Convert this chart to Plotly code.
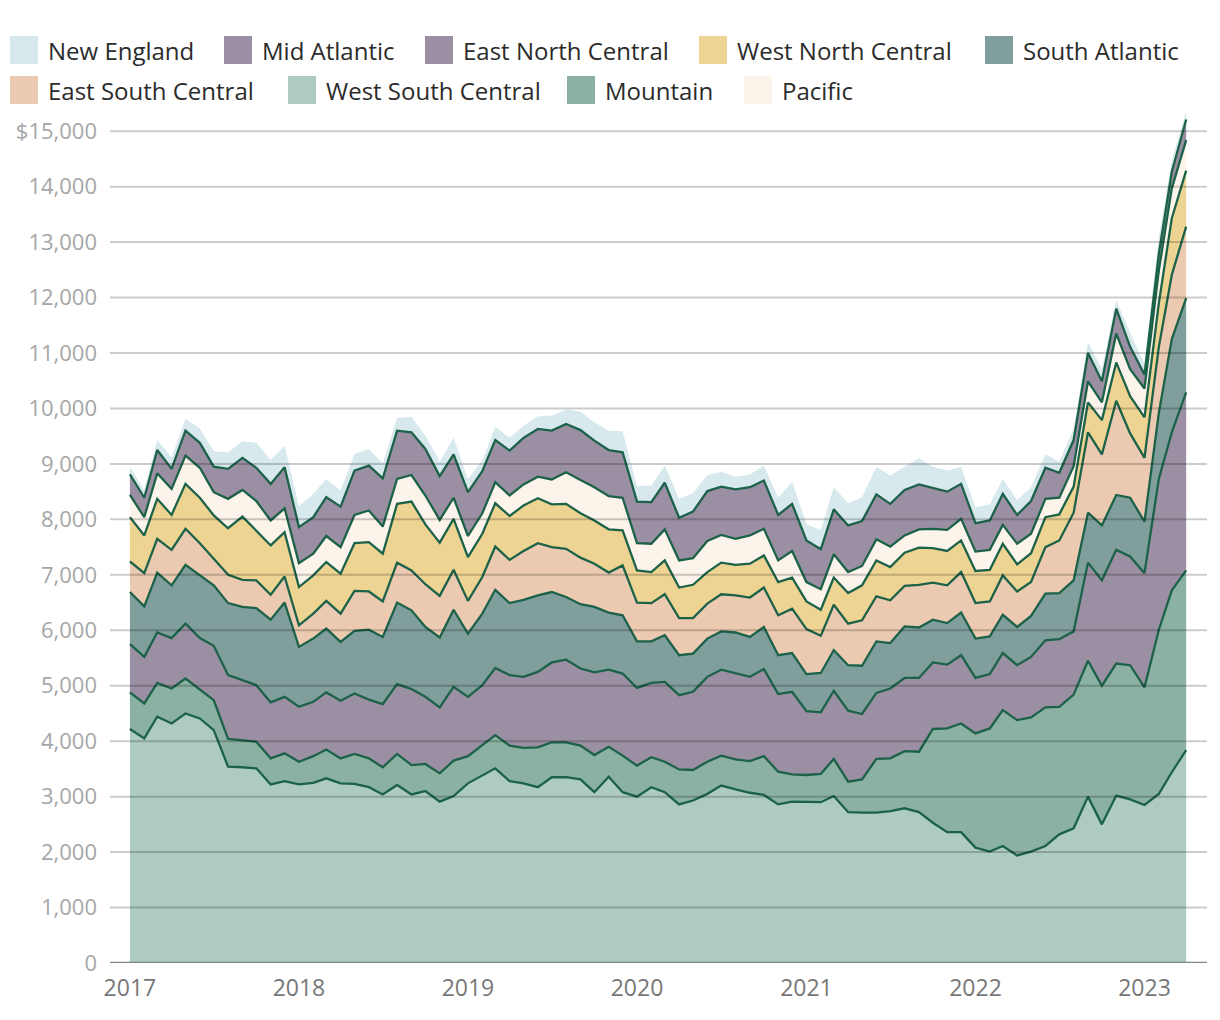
import pandas as pd
import plotly.graph_objects as go

# ---------------- data (monthly, Jan 2017 .. Apr 2023) ----------------
months = pd.date_range("2017-01-01", periods=76, freq="MS")

west_south_central = [
    4220, 4050, 4440, 4320, 4500, 4410, 4200, 3540, 3530, 3510, 3220, 3280,
    3220, 3250, 3330, 3240, 3230, 3170, 3040, 3210, 3040, 3100, 2910, 3010,
    3240, 3390, 3510, 3280, 3240, 3170, 3350, 3350, 3310, 3080, 3360, 3080,
    3000, 3170, 3080, 2860, 2930, 3050, 3200, 3130, 3070, 3030, 2860, 2910,
    2910, 2900, 3010, 2720, 2710, 2710, 2740, 2790, 2720, 2530, 2360, 2360,
    2080, 2010, 2110, 1940, 2010, 2110, 2320, 2430, 3000, 2500, 3020, 2950,
    2850, 3050, 3440, 3840]
mountain = [
    660, 630, 610, 630, 630, 520, 540, 500, 490, 480, 470, 500,
    410, 480, 520, 450, 540, 520, 490, 560, 530, 490, 510, 640,
    490, 540, 600, 640, 640, 720, 630, 630, 610, 670, 540, 660,
    560, 540, 550, 630, 550, 580, 540, 540, 570, 700, 590, 490,
    480, 510, 670, 550, 600, 970, 950, 1030, 1090, 1690, 1870, 1960,
    2060, 2220, 2450, 2440, 2420, 2500, 2300, 2410, 2450, 2500, 2380, 2420,
    2120, 2960, 3280, 3240]
mid_atlantic = [
    870, 840, 910, 910, 990, 930, 980, 1150, 1080, 1020, 1010, 1020,
    990, 980, 1030, 1040, 1090, 1060, 1140, 1260, 1370, 1210, 1190, 1330,
    1070, 1080, 1210, 1270, 1280, 1360, 1440, 1490, 1390, 1490, 1390, 1480,
    1400, 1340, 1440, 1340, 1410, 1530, 1550, 1560, 1520, 1570, 1400, 1490,
    1150, 1110, 1230, 1280, 1180, 1190, 1260, 1320, 1330, 1200, 1150, 1230,
    1000, 980, 1030, 990, 1090, 1210, 1220, 1140, 1770, 1900, 2050, 1960,
    2060, 2720, 2850, 3210]
south_atlantic = [
    940, 910, 1080, 950, 1060, 1130, 1090, 1300, 1320, 1390, 1490, 1700,
    1080, 1140, 1150, 1060, 1130, 1260, 1210, 1470, 1420, 1260, 1260, 1390,
    1140, 1290, 1410, 1300, 1390, 1380, 1270, 1130, 1160, 1180, 1030, 1050,
    840, 750, 840, 720, 690, 690, 690, 730, 720, 760, 700, 700,
    670, 710, 730, 820, 870, 930, 820, 930, 910, 770, 750, 770,
    710, 680, 690, 690, 740, 840, 830, 920, 900, 990, 990, 1060,
    930, 1190, 1680, 1700]
east_south_central = [
    550, 600, 610, 640, 650, 580, 480, 510, 490, 500, 450, 470,
    390, 450, 500, 510, 720, 690, 640, 720, 720, 770, 750, 720,
    590, 660, 780, 780, 880, 940, 810, 870, 840, 780, 720, 900,
    700, 690, 740, 670, 640, 630, 670, 670, 710, 710, 720, 800,
    810, 670, 820, 750, 820, 810, 770, 730, 770, 670, 680, 730,
    640, 630, 710, 640, 610, 840, 950, 1220, 1450, 1280, 1700, 1160,
    1150, 1190, 1160, 1290]
west_north_central = [
    800, 680, 720, 630, 810, 820, 780, 840, 1140, 900, 890, 800,
    690, 690, 700, 720, 860, 890, 860, 1060, 1240, 1080, 960, 920,
    790, 780, 780, 790, 820, 810, 770, 810, 800, 780, 780, 630,
    580, 560, 610, 550, 600, 570, 570, 550, 610, 580, 600, 560,
    500, 470, 490, 550, 630, 650, 600, 600, 670, 620, 620, 570,
    580, 570, 570, 490, 520, 540, 470, 470, 540, 620, 690, 670,
    730, 790, 1020, 1010]
pacific = [
    400, 330, 460, 470, 510, 540, 420, 530, 480, 530, 450, 430,
    430, 390, 470, 480, 510, 570, 490, 450, 480, 520, 410, 380,
    380, 370, 380, 370, 380, 390, 450, 570, 600, 600, 600, 590,
    490, 510, 560, 490, 480, 560, 500, 470, 510, 480, 390, 480,
    350, 370, 420, 380, 350, 380, 370, 310, 330, 350, 380, 390,
    350, 360, 340, 370, 350, 330, 300, 370, 380, 320, 520, 490,
    520, 590, 540, 550]
east_north_central = [
    370, 350, 420, 360, 450, 450, 460, 540, 580, 600, 660, 740,
    650, 660, 700, 730, 800, 810, 870, 870, 770, 840, 790, 780,
    790, 760, 760, 810, 840, 860, 880, 870, 900, 840, 830, 820,
    750, 750, 840, 770, 840, 900, 870, 890, 870, 870, 820, 850,
    750, 720, 810, 840, 810, 810, 770, 820, 810, 730, 690, 630,
    510, 530, 560, 520, 590, 560, 450, 470, 510, 380, 450, 400,
    250, 300, 300, 370]
new_england = [
    150, 130, 180, 210, 210, 260, 280, 300, 300, 450, 430, 390,
    370, 420, 330, 290, 300, 300, 270, 230, 280, 240, 260, 300,
    240, 190, 240, 230, 220, 230, 270, 260, 330, 330, 350, 380,
    280, 300, 310, 340, 330, 290, 270, 230, 230, 270, 310, 400,
    290, 350, 400, 400, 430, 500, 510, 420, 470, 390, 380, 310,
    290, 290, 270, 270, 250, 250, 200, 200, 200, 220, 150, 250,
    200, 300, 200, 150]

y_ticks = [0, 1000, 2000, 3000, 4000, 5000, 6000, 7000, 8000, 9000,
           10000, 11000, 12000, 13000, 14000, 15000]
y_tick_labels = ["0", "1,000", "2,000", "3,000", "4,000", "5,000", "6,000",
                 "7,000", "8,000", "9,000", "10,000", "11,000", "12,000",
                 "13,000", "14,000", "$15,000"]

# stacking order, bottom -> top
series = [
    ("West South Central", west_south_central, "#adcbc0"),
    ("Mountain", mountain, "#8ab1a1"),
    ("Mid Atlantic", mid_atlantic, "#9a8fa3"),
    ("South Atlantic", south_atlantic, "#7f9e9c"),
    ("East South Central", east_south_central, "#eccab1"),
    ("West North Central", west_north_central, "#eed493"),
    ("Pacific", pacific, "#fcf4ea"),
    ("East North Central", east_north_central, "#9a8fa3"),
    ("New England", new_england, "#d8e9ed"),
]
colors = {n: c for n, _, c in series}

legend_rows = [
    ["New England", "Mid Atlantic", "East North Central", "West North Central", "South Atlantic"],
    ["East South Central", "West South Central", "Mountain", "Pacific"],
]

# ---------------- layout geometry (pixels) ----------------
W, H = 1220, 1020
ML, MR, MT, MB = 110, 13, 109, 57
PW, PH = W - ML - MR, H - MT - MB
LINE = "#1c6249"

def xp(px):
    return (px - ML) / PW

def yp(py):
    return (H - MB - py) / PH

fig = go.Figure()
for name, vals, col in series:
    top = name == "New England"
    fig.add_trace(go.Scatter(
        x=months, y=vals, name=name, stackgroup="one", mode="lines",
        line=dict(color=LINE, width=0 if top else 2.3, shape="linear"),
        fillcolor=col, hoverinfo="skip", showlegend=False))

shapes = []
for v in y_ticks:
    if v == 0:
        continue
    shapes.append(dict(type="line", xref="paper", yref="y", x0=0, x1=1, y0=v, y1=v,
                       line=dict(color="rgba(0,0,0,0.2)", width=2), layer="above"))
shapes.append(dict(type="line", xref="paper", yref="y", x0=0, x1=1, y0=0, y1=0,
                   line=dict(color="#7b878c", width=2.5), layer="above"))

# legend: swatches + labels
swatch_x = [[10, 224, 425, 699, 985], [10, 288, 567, 744]]
row_y = [50, 90]
sw = 28
annotations = []
for r, row in enumerate(legend_rows):
    for k, name in enumerate(row):
        sx = swatch_x[r][k]
        cy = row_y[r]
        shapes.append(dict(type="rect", xref="paper", yref="paper",
                           x0=xp(sx), x1=xp(sx + sw), y0=yp(cy + sw / 2), y1=yp(cy - sw / 2),
                           fillcolor=colors[name], line=dict(width=0), layer="above"))
        annotations.append(dict(xref="paper", yref="paper", x=xp(sx + 36), y=yp(cy),
                                xanchor="left", yanchor="middle", showarrow=False,
                                text=name, font=dict(size=24, color="#2b2b2b")))

fig.update_layout(
    width=W, height=H,
    margin=dict(l=ML, r=MR, t=MT, b=MB, pad=0),
    paper_bgcolor="white", plot_bgcolor="white",
    font=dict(family="Open Sans", color="#333"),
    showlegend=False,
    shapes=shapes, annotations=annotations,
    xaxis=dict(type="date", range=["2016-11-19", "2023-05-16"],
               tick0="2017-01-01", dtick="M12", tickformat="%Y",
               showgrid=False, zeroline=False, showline=False, ticks="",
               ticklabelstandoff=9,
               tickfont=dict(size=23, color="#777777")),
    yaxis=dict(range=[0, 15400], tickvals=y_ticks, ticktext=y_tick_labels,
               showgrid=False, zeroline=False, showline=False, ticks="",
               ticklabelstandoff=12,
               tickfont=dict(size=22, color="#a6a6a6")),
)

fig.write_html("out.html")
